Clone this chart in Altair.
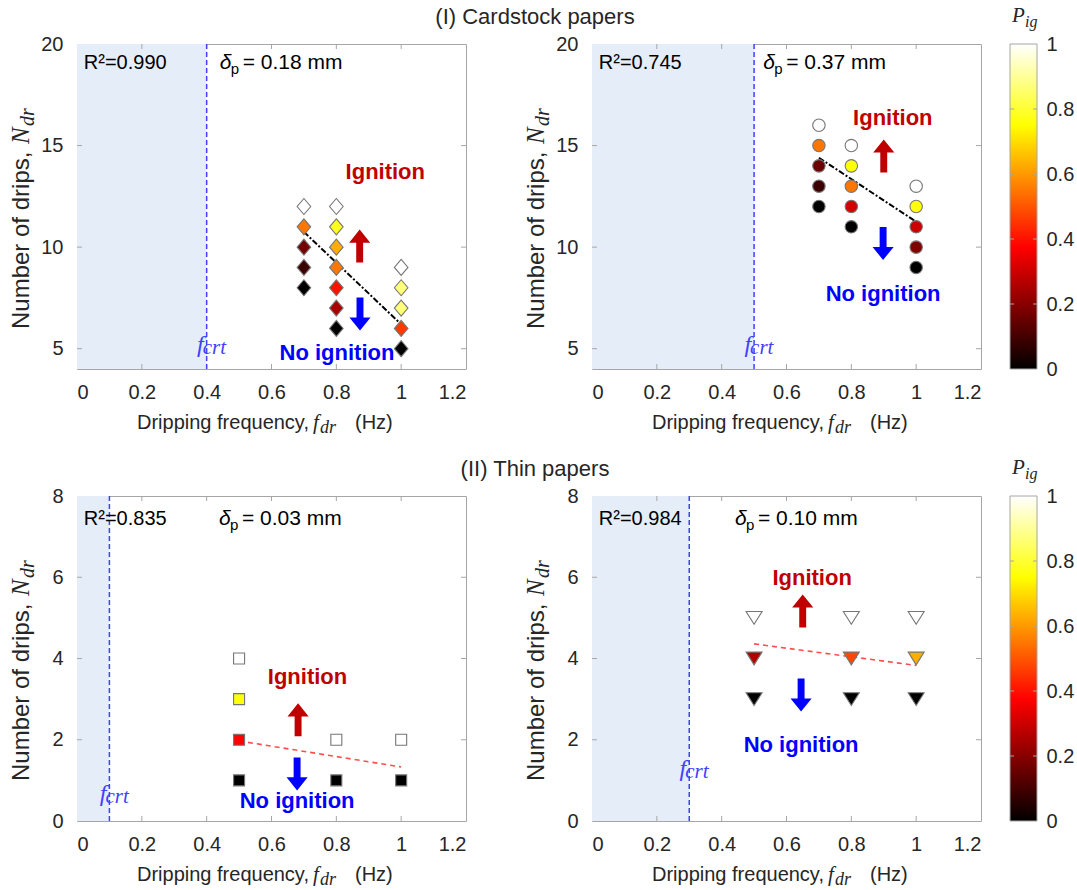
import altair as alt
import pandas as pd

# ---------------- data ----------------
# (I) Cardstock, delta_p = 0.18 mm  -- dripping frequency, number of drips, ignition probability
tl_f = [0.7, 0.7, 0.7, 0.7, 0.7, 0.8, 0.8, 0.8, 0.8, 0.8, 0.8, 0.8, 1.0, 1.0, 1.0, 1.0, 1.0]
tl_n = [12, 11, 10, 9, 8, 12, 11, 10, 9, 8, 7, 6, 9, 8, 7, 6, 5]
tl_p = [1.0, 0.55, 0.17, 0.09, 0.0, 1.0, 0.78, 0.63, 0.55, 0.40, 0.25, 0.0, 1.0, 0.87, 0.87, 0.46, 0.0]
tl_fit_f = [0.7, 1.0]
tl_fit_n = [10.75, 6.2]

# (I) Cardstock, delta_p = 0.37 mm
tr_f = [0.7, 0.7, 0.7, 0.7, 0.7, 0.8, 0.8, 0.8, 0.8, 0.8, 1.0, 1.0, 1.0, 1.0, 1.0]
tr_n = [16, 15, 14, 13, 12, 15, 14, 13, 12, 11, 13, 12, 11, 10, 9]
tr_p = [1.0, 0.55, 0.16, 0.09, 0.0, 1.0, 0.76, 0.55, 0.31, 0.0, 1.0, 0.76, 0.30, 0.19, 0.0]
tr_fit_f = [0.7, 1.0]
tr_fit_n = [14.4, 11.25]

# (II) Thin, delta_p = 0.03 mm
bl_f = [0.5, 0.5, 0.5, 0.5, 0.8, 0.8, 1.0, 1.0]
bl_n = [4, 3, 2, 1, 2, 1, 2, 1]
bl_p = [1.0, 0.76, 0.38, 0.0, 1.0, 0.0, 1.0, 0.0]
bl_fit_f = [0.5, 1.0]
bl_fit_n = [1.97, 1.33]

# (II) Thin, delta_p = 0.10 mm
br_f = [0.5, 0.5, 0.5, 0.8, 0.8, 0.8, 1.0, 1.0, 1.0]
br_n = [5, 4, 3, 5, 4, 3, 5, 4, 3]
br_p = [1.0, 0.26, 0.0, 1.0, 0.48, 0.0, 1.0, 0.63, 0.0]
br_fit_f = [0.5, 1.0]
br_fit_n = [4.36, 3.83]

# critical frequencies and fit quality
f_crit = [0.4, 0.5, 0.1, 0.3]
r2_labels = ["R²=0.990", "R²=0.745", "R²=0.835", "R²=0.984"]
thickness_labels = ["= 0.18 mm", "= 0.37 mm", "= 0.03 mm", "= 0.10 mm"]

x_ticks = [0, 0.2, 0.4, 0.6, 0.8, 1, 1.2]
y_ticks_top = [5, 10, 15, 20]
y_ticks_bottom = [0, 2, 4, 6, 8]
cbar_ticks = [0, 0.2, 0.4, 0.6, 0.8, 1]

# "hot" colour map
hot_stops = [0, 0.375, 0.75, 1]
hot_colors = ["#000000", "#ff0000", "#ffff00", "#ffffff"]

# ---------------- styling ----------------
SANS = "Liberation Sans"
SERIF = "Liberation Serif"
W, H = 389, 325
CB_GAP, CB_W = 29, 27
SHADE = "#e5edf8"
CRT = "#4040ff"
EDGE = "#767676"
FRAME = "#a6a6a6"
LABEL = "#262626"
IGN_RED = "#c00000"
NOIGN_BLUE = "#0000ff"

HOT = alt.Scale(domain=hot_stops, range=hot_colors, interpolate="rgb")

DIAMOND = "M0,-1 L0.85,0 L0,1 L-0.85,0 Z"
TRI_DOWN = "M-1,-0.8 L1,-0.8 L0,0.8 Z"
ARROW_UP = "M0,-1 L0.64,-0.21 L0.21,-0.21 L0.21,1 L-0.21,1 L-0.21,-0.21 L-0.64,-0.21 Z"
ARROW_DOWN = "M0,1 L0.64,0.21 L0.21,0.21 L0.21,-1 L-0.21,-1 L-0.21,0.21 L-0.64,0.21 Z"


def pixel_text(label, x, y, size, color="black", font=SANS, style="normal",
               weight="normal", align="left", baseline="alphabetic", angle=0, dx=0, dy=0):
    return alt.Chart(pd.DataFrame({"t": [label]})).mark_text(
        font=font, fontSize=size, fontStyle=style, fontWeight=weight, color=color,
        align=align, baseline=baseline, angle=angle, dx=dx, dy=dy,
    ).encode(x=alt.value(x), y=alt.value(y), text="t:N")


def panel(f, n, p, shape, size, fit_f, fit_n, fit_color, fit_dash, fcrt, ydom, yticks,
          r2, thick, crt_y, ann, row_title=None):
    xs = alt.Scale(domain=[0, 1.2], nice=False, zero=False)
    ys = alt.Scale(domain=ydom, nice=False, zero=False)
    xaxis = alt.Axis(values=x_ticks, format="~g", title=None)
    yaxis = alt.Axis(values=yticks, format="~g", title=None)

    def X(field):
        return alt.X(field, scale=xs, axis=xaxis)

    def Y(field):
        return alt.Y(field, scale=ys, axis=yaxis)

    def data_text(label, x, y, size, color="black", font=SANS, style="normal",
                  weight="normal", align="left", baseline="alphabetic", dx=0, dy=0):
        return alt.Chart(pd.DataFrame({"x": [x], "y": [y], "t": [label]})).mark_text(
            font=font, fontSize=size, fontStyle=style, fontWeight=weight, color=color,
            align=align, baseline=baseline, dx=dx, dy=dy,
        ).encode(x=X("x:Q"), y=Y("y:Q"), text="t:N")

    def arrow(path, x, y, color):
        return alt.Chart(pd.DataFrame({"x": [x], "y": [y]})).mark_point(
            shape=path, size=1089, filled=True, color=color, opacity=1, strokeWidth=0,
        ).encode(x=X("x:Q"), y=Y("y:Q"))

    layers = []

    # sub-critical band
    layers.append(alt.Chart(pd.DataFrame({"lo": [0], "hi": [fcrt]})).mark_rect(color=SHADE).encode(
        x=X("lo:Q"), x2="hi:Q"))

    # inward ticks on all four sides
    xt = pd.DataFrame({"v": x_ticks[1:-1]})
    yt = pd.DataFrame({"v": [t for t in yticks if ydom[0] < t < ydom[1]]})
    for y0, y1 in ((H, H - 5), (0, 5)):
        layers.append(alt.Chart(xt).mark_rule(color=FRAME, strokeWidth=1).encode(
            x=X("v:Q"), y=alt.value(y0), y2=alt.value(y1)))
    for x0, x1 in ((0, 5), (W, W - 5)):
        layers.append(alt.Chart(yt).mark_rule(color=FRAME, strokeWidth=1).encode(
            y=Y("v:Q"), x=alt.value(x0), x2=alt.value(x1)))

    # critical frequency
    layers.append(alt.Chart(pd.DataFrame({"v": [fcrt]})).mark_rule(
        color=CRT, strokeDash=[5, 3], strokeWidth=1.5).encode(x=X("v:Q")))
    layers.append(data_text("f", fcrt, crt_y, 24, CRT, SERIF, "italic", align="right", dx=-3))
    layers.append(data_text("crt", fcrt, crt_y, 21, CRT, SERIF, "italic", dx=-4, dy=2))

    # linear fit
    layers.append(alt.Chart(pd.DataFrame({"f": fit_f, "n": fit_n})).mark_line(
        color=fit_color, strokeDash=fit_dash, strokeWidth=2 if fit_color == "black" else 1.6).encode(
        x=X("f:Q"), y=Y("n:Q")))

    # measurements coloured by ignition probability
    pts = pd.DataFrame({"f": f, "n": n, "p": p})
    layers.append(alt.Chart(pts).mark_point(
        shape=shape, size=size, filled=True, stroke=EDGE, strokeWidth=1.1, opacity=1).encode(
        x=X("f:Q"), y=Y("n:Q"),
        fill=alt.Fill("p:Q", scale=HOT, legend=None)))

    # ignition / no-ignition regions
    layers.append(data_text("Ignition", ann["ign"][0], ann["ign"][1], 22, IGN_RED,
                            weight="bold", align="center", baseline="middle"))
    layers.append(arrow(ARROW_UP, ann["up"][0], ann["up"][1], IGN_RED))
    layers.append(arrow(ARROW_DOWN, ann["down"][0], ann["down"][1], NOIGN_BLUE))
    layers.append(data_text("No ignition", ann["noign"][0], ann["noign"][1], 22, NOIGN_BLUE,
                            weight="bold", align="center", baseline="middle"))

    # fit quality and paper thickness
    layers.append(data_text(r2, 0.021, ann["r2y"], 20, "black", baseline="middle"))
    layers.append(data_text("δ", ann["dx"], ann["r2y"], 21, "black", style="italic",
                            baseline="middle"))
    layers.append(data_text("p", ann["dx"], ann["r2y"], 15, "black", baseline="middle",
                            dx=11, dy=6))
    layers.append(data_text(thick, ann["dx"], ann["r2y"], 21, "black", baseline="middle",
                            dx=23))

    # axis titles
    layers.append(pixel_text("Dripping frequency,", 60, H + 60, 20, LABEL))
    layers.append(pixel_text("f", 236, H + 60, 21, LABEL, SERIF, "italic"))
    layers.append(pixel_text("dr", 243, H + 60, 18, LABEL, SERIF, "italic", dy=4))
    layers.append(pixel_text("(Hz)", 278, H + 60, 20, LABEL))
    layers.append(pixel_text("Number of drips,", -48, 285, 24, LABEL, angle=270))
    layers.append(pixel_text("N", -48, 100, 25, LABEL, SERIF, "italic", angle=270))
    layers.append(pixel_text("dr", -48, 82, 20, LABEL, SERIF, "italic", angle=270, dy=5))

    if row_title:
        layers.append(pixel_text(row_title, 458, -27, 22, LABEL, align="center", baseline="middle"))

    return alt.layer(*layers)


def colorbar():
    # probability colour bar drawn to the right of a panel on its own y scale
    ys = alt.Scale(domain=[0, 1], nice=False, zero=False)
    cax = alt.Axis(orient="right", values=cbar_ticks, format="~g", title=None,
                   offset=CB_GAP + CB_W, labelPadding=9)
    x0, x1 = W + CB_GAP, W + CB_GAP + CB_W
    grad = alt.Gradient(
        gradient="linear", x1=0, x2=0, y1=1, y2=0,
        stops=[alt.GradientStop(offset=o, color=c) for o, c in zip(hot_stops, hot_colors)])
    bar = alt.Chart(pd.DataFrame({"lo": [0], "hi": [1]})).mark_rect(
        fill=grad, stroke=FRAME, strokeWidth=1).encode(
        y=alt.Y("lo:Q", scale=ys, axis=cax), y2="hi:Q",
        x=alt.value(x0), x2=alt.value(x1))
    tk = pd.DataFrame({"v": cbar_ticks[1:-1]})
    t1 = alt.Chart(tk).mark_rule(color=FRAME).encode(
        y=alt.Y("v:Q", scale=ys, axis=cax), x=alt.value(x0), x2=alt.value(x0 + 4))
    t2 = alt.Chart(tk).mark_rule(color=FRAME).encode(
        y=alt.Y("v:Q", scale=ys, axis=cax), x=alt.value(x1), x2=alt.value(x1 - 4))
    p_lab = pixel_text("P", x0 + 2, -22, 21, LABEL, SERIF, "italic")
    ig_lab = pixel_text("ig", x0 + 15, -22, 16, LABEL, SERIF, "italic", dy=5)
    return alt.layer(bar, t1, t2, p_lab, ig_lab)


tl = panel(tl_f, tl_n, tl_p, DIAMOND, 256, tl_fit_f, tl_fit_n, "black", [6, 2, 2, 2],
           f_crit[0], [4, 20], y_ticks_top, r2_labels[0], thickness_labels[0], 4.83,
           dict(ign=(0.951, 13.7), up=(0.872, 10.05), down=(0.873, 6.71), noign=(0.802, 4.81),
                r2y=19.05, dx=0.44),
           "(I) Cardstock papers").properties(width=W, height=H)
tr = alt.layer(
    panel(tr_f, tr_n, tr_p, "circle", 154, tr_fit_f, tr_fit_n, "black", [6, 2, 2, 2],
          f_crit[1], [4, 20], y_ticks_top, r2_labels[1], thickness_labels[1], 4.83,
          dict(ign=(0.928, 16.36), up=(0.90, 14.49), down=(0.898, 10.18), noign=(0.898, 7.69),
               r2y=19.05, dx=0.528)),
    colorbar(),
).resolve_scale(y="independent").properties(width=W, height=H)
bl = panel(bl_f, bl_n, bl_p, "square", 121, bl_fit_f, bl_fit_n, "#ff4d4d", [5, 4],
           f_crit[2], [0, 8], y_ticks_bottom, r2_labels[2], thickness_labels[2], 0.49,
           dict(ign=(0.711, 3.55), up=(0.682, 2.49), down=(0.679, 1.16), noign=(0.679, 0.49),
                r2y=7.44, dx=0.438),
           "(II) Thin papers").properties(width=W, height=H)
br = alt.layer(
    panel(br_f, br_n, br_p, TRI_DOWN, 256, br_fit_f, br_fit_n, "#ff4d4d", [5, 4],
          f_crit[3], [0, 8], y_ticks_bottom, r2_labels[3], thickness_labels[3], 1.1,
          dict(ign=(0.679, 5.99), up=(0.650, 5.17), down=(0.645, 3.10), noign=(0.645, 1.87),
               r2y=7.44, dx=0.441)),
    colorbar(),
).resolve_scale(y="independent").properties(width=W, height=H)

chart = alt.concat(
    tl, tr, bl, br, columns=2, spacing={"row": 127, "column": 126}, bounds="flush"
).resolve_scale(
    x="independent", y="independent"
).properties(
    padding={"left": 8, "top": 4, "right": 0, "bottom": 0}
).configure_view(
    stroke=FRAME, strokeWidth=1
).configure_axis(
    domain=False, ticks=False, grid=False,
    labelFont=SANS, labelFontSize=20, labelColor=LABEL,
).configure_axisX(labelPadding=13).configure_axisY(labelPadding=14)

chart.save("out.html", embed_options={"renderer": "svg", "actions": False})
